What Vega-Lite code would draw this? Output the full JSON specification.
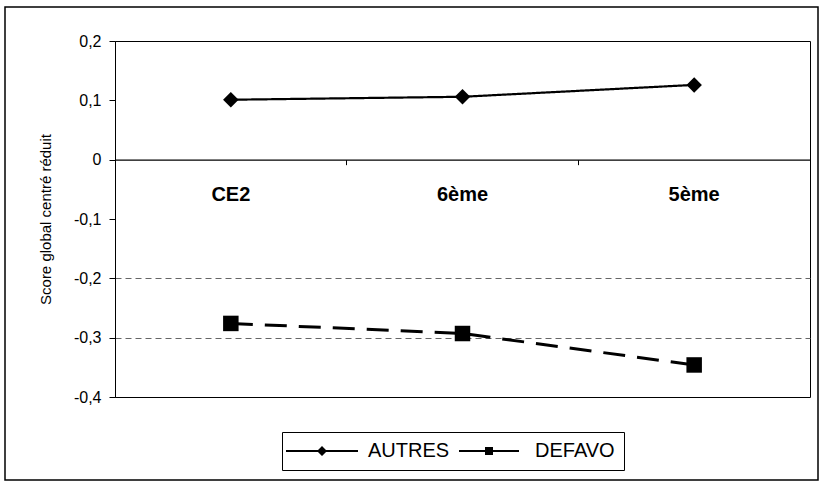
{
  "$schema": "https://vega.github.io/schema/vega-lite/v6.json",
  "width": 695,
  "height": 356,
  "autosize": {"type": "none"},
  "padding": {"left": 115, "top": 41, "right": 10, "bottom": 84},
  "background": "white",
  "config": {
    "view": {"stroke": "black", "strokeWidth": 1},
    "font": "Liberation Sans"
  },
  "data": {
    "values": [
      {"niveau": "CE2", "serie": "AUTRES", "score": 0.101},
      {"niveau": "6ème", "serie": "AUTRES", "score": 0.106},
      {"niveau": "5ème", "serie": "AUTRES", "score": 0.126},
      {"niveau": "CE2", "serie": "DEFAVO", "score": -0.276},
      {"niveau": "6ème", "serie": "DEFAVO", "score": -0.293},
      {"niveau": "5ème", "serie": "DEFAVO", "score": -0.346}
    ]
  },
  "layer": [
    {
      "data": {"values": [{}]},
      "mark": {"type": "rect", "x": -110, "y": -34, "x2": 703, "y2": 439, "fill": null, "stroke": "black", "strokeWidth": 1.5},
      "encoding": {}
    },
    {
      "mark": {"type": "point", "filled": true, "color": "black", "size": 100, "opacity": 0.001},
      "encoding": {
        "x": {
          "field": "niveau",
          "type": "nominal",
          "sort": ["CE2", "6ème", "5ème"],
          "scale": {"type": "band", "paddingInner": 0, "paddingOuter": 0},
          "axis": {
            "title": null,
            "offset": -237.33,
            "bandPosition": 0,
            "labelAngle": 0,
            "labelFont": "Liberation Sans",
            "labelFontSize": 20,
            "labelFontWeight": "bold",
            "labelColor": "black",
            "labelPadding": 20,
            "tickSize": 5,
            "tickColor": "black",
            "domainColor": "black",
            "domainWidth": 1.2,
            "grid": false
          }
        },
        "y": {
          "field": "score",
          "type": "quantitative",
          "scale": {"domain": [-0.4, 0.2], "nice": false, "zero": false},
          "axis": {
            "values": [-0.4, -0.3, -0.2, -0.1, 0, 0.1, 0.2],
            "labelExpr": "abs(datum.value) < 1e-9 ? '0' : (datum.value < 0 ? '-' : '') + replace(format(abs(datum.value), '.1f'), '.', ',')",
            "title": "Score global centré réduit",
            "titleFont": "Liberation Sans",
            "titleFontSize": 15,
            "titleFontWeight": "normal",
            "titleColor": "black",
            "titlePadding": 20,
            "labelFont": "Liberation Sans",
            "labelFontSize": 16,
            "labelColor": "black",
            "labelPadding": 8,
            "tickSize": 6,
            "tickColor": "black",
            "domainColor": "black",
            "grid": true,
            "gridColor": "#666666",
            "gridDash": [6, 4],
            "gridWidth": 1,
            "gridOpacity": {"condition": {"test": "abs(datum.value + 0.25) < 0.06", "value": 1}, "value": 0}
          }
        },
        "shape": {
          "field": "serie",
          "type": "nominal",
          "scale": {
            "domain": ["AUTRES", "DEFAVO"],
            "range": [
              "M-7.2,-0.2H7.2V0.2H-7.2Z M0,-1L1,0L0,1L-1,0Z",
              "M-6,-0.2H6V0.2H-6Z M-0.8,-0.8H0.8V0.8H-0.8Z"
            ]
          },
          "legend": {
            "orient": "none",
            "legendX": 167,
            "legendY": 391,
            "direction": "horizontal",
            "title": null,
            "strokeColor": "black",
            "fillColor": "white",
            "padding": 9,
            "labelFont": "Liberation Sans",
            "labelFontSize": 20,
            "labelColor": "black",
            "symbolSize": 100,
            "symbolOffset": 21,
            "labelOffset": 36,
            "columnPadding": 8,
            "symbolOpacity": 1,
            "symbolFillColor": "black",
            "symbolStrokeWidth": 0
          }
        }
      }
    },
    {
      "mark": {"type": "line", "color": "black"},
      "encoding": {
        "x": {
          "field": "niveau",
          "type": "nominal",
          "sort": ["CE2", "6ème", "5ème"],
          "scale": {"type": "band", "paddingInner": 0, "paddingOuter": 0},
          "axis": {
            "title": null,
            "offset": -237.33,
            "bandPosition": 0,
            "labelAngle": 0,
            "labelFont": "Liberation Sans",
            "labelFontSize": 20,
            "labelFontWeight": "bold",
            "labelColor": "black",
            "labelPadding": 20,
            "tickSize": 5,
            "tickColor": "black",
            "domainColor": "black",
            "domainWidth": 1.2,
            "grid": false
          }
        },
        "y": {
          "field": "score",
          "type": "quantitative",
          "scale": {"domain": [-0.4, 0.2], "nice": false, "zero": false},
          "axis": {
            "values": [-0.4, -0.3, -0.2, -0.1, 0, 0.1, 0.2],
            "labelExpr": "abs(datum.value) < 1e-9 ? '0' : (datum.value < 0 ? '-' : '') + replace(format(abs(datum.value), '.1f'), '.', ',')",
            "title": "Score global centré réduit",
            "titleFont": "Liberation Sans",
            "titleFontSize": 15,
            "titleFontWeight": "normal",
            "titleColor": "black",
            "titlePadding": 20,
            "labelFont": "Liberation Sans",
            "labelFontSize": 16,
            "labelColor": "black",
            "labelPadding": 8,
            "tickSize": 6,
            "tickColor": "black",
            "domainColor": "black",
            "grid": true,
            "gridColor": "#666666",
            "gridDash": [6, 4],
            "gridWidth": 1,
            "gridOpacity": {"condition": {"test": "abs(datum.value + 0.25) < 0.06", "value": 1}, "value": 0}
          }
        },
        "strokeDash": {
          "field": "serie",
          "type": "nominal",
          "scale": {"domain": ["AUTRES", "DEFAVO"], "range": [[1, 0], [22, 12]]},
          "legend": null
        },
        "strokeWidth": {
          "condition": {"test": "datum.serie === 'AUTRES'", "value": 2.2},
          "value": 3
        }
      }
    },
    {
      "mark": {"type": "point", "filled": true, "color": "black", "size": 240, "opacity": 1},
      "encoding": {
        "x": {"field": "niveau", "type": "nominal", "sort": ["CE2", "6ème", "5ème"]},
        "y": {"field": "score", "type": "quantitative"},
        "shape": {
          "condition": {"test": "datum.serie === 'AUTRES'", "value": "diamond"},
          "value": "square"
        }
      }
    }
  ]
}
